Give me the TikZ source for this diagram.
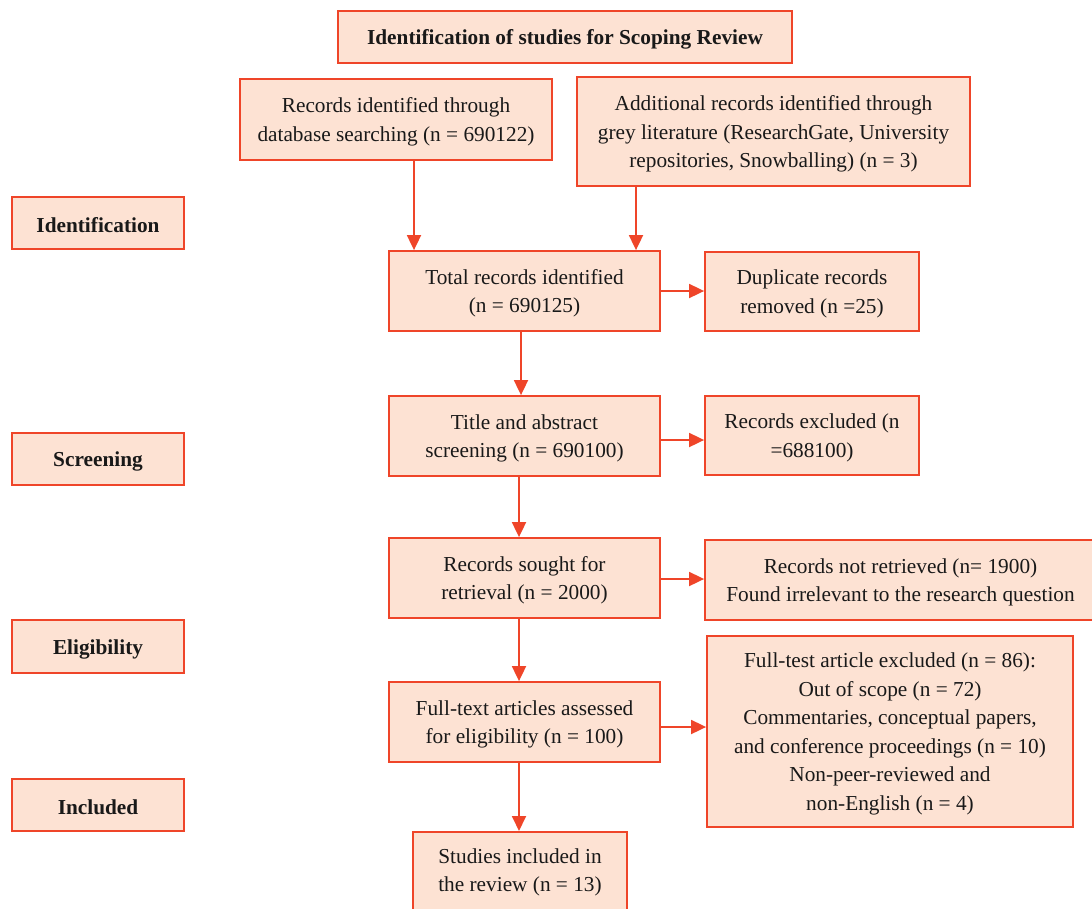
\documentclass[tikz,border=0pt]{standalone}
\usepackage{fontspec}
\setmainfont{Liberation Serif}
\usetikzlibrary{arrows.meta,calc}
\definecolor{bred}{HTML}{EF4529}
\definecolor{bfill}{HTML}{FDE2D3}
\newcommand{\fs}{\fontsize{21.3}{28.5}\selectfont}
\newcommand{\bx}[6]{\node[box, minimum width={#4-#2}, minimum height={#5-#3}] (#1) at ({(#2+#4)/2},{(#3+#5)/2}) {\rule{0pt}{20pt}#6};}
\begin{document}
\begin{tikzpicture}[x=1pt,y=-1pt,
  box/.style={draw=bred, fill=bfill, line width=1.8pt, align=center, font=\fs, inner sep=0pt, text=black!90},
  arr/.style={draw=bred, line width=1.8pt, -{Triangle[width=14pt,length=15pt]}}]
\useasboundingbox (0,0) rectangle (1092,908);
\bx{title}{338}{11}{792}{63}{\textbf{Identification of studies for Scoping Review}}
\bx{A}{240}{79}{552}{160}{Records identified through\\database searching (n = 690122)}
\bx{B}{577}{77}{970}{186}{Additional records identified through\\grey literature (ResearchGate, University\\repositories, Snowballing) (n = 3)}
\bx{idn}{12}{197}{184}{249}{\textbf{Identification}}
\bx{T}{389}{251}{660}{331}{Total records identified\\(n = 690125)}
\bx{D}{705}{252}{919}{331}{Duplicate records\\removed (n =25)}
\bx{scr}{12}{433}{184}{485}{\textbf{Screening}}
\bx{TA}{389}{396}{660}{476}{Title and abstract\\screening (n = 690100)}
\bx{E}{705}{396}{919}{475}{Records excluded (n\\=688100)}
\bx{R}{389}{538}{660}{618}{Records sought for\\retrieval (n = 2000)}
\bx{NR}{705}{540}{1096}{620}{Records not retrieved (n= 1900)\\Found irrelevant to the research question}
\bx{eli}{12}{620}{184}{673}{\textbf{Eligibility}}
\bx{F}{389}{682}{660}{762}{Full-text articles assessed\\for eligibility (n = 100)}
\bx{X}{707}{636}{1073}{827}{Full-test article excluded (n = 86):\\Out of scope (n = 72)\\Commentaries, conceptual papers,\\and conference proceedings (n = 10)\\Non-peer-reviewed and\\non-English (n = 4)}
\bx{inc}{12}{779}{184}{831}{\textbf{Included}}
\node[box, minimum width=214, minimum height=100, anchor=north] (S) at (520,831) {};
\node[font=\fs, align=center, anchor=north, text=black!90] (Stext) at (520,845) {Studies included in\\the review (n = 13)};
\coordinate (ca) at (414,0);
\coordinate (cb) at (636,0);
\coordinate (c1) at (521,0);
\coordinate (c2) at (519,0);
\draw[arr] (A.south -| ca) -- (T.north -| ca);
\draw[arr] (B.south -| cb) -- (T.north -| cb);
\draw[arr] (T.east) -- (T.east -| D.west);
\draw[arr] (T.south -| c1) -- (TA.north -| c1);
\draw[arr] ([yshift=-4pt]TA.east) -- ([yshift=-4pt]TA.east -| E.west);
\draw[arr] (TA.south -| c2) -- (R.north -| c2);
\draw[arr] ([yshift=-1pt]R.east) -- ([yshift=-1pt]R.east -| NR.west);
\draw[arr] (R.south -| c2) -- (F.north -| c2);
\draw[arr] ([yshift=-5pt]F.east) -- ([yshift=-5pt]F.east -| X.west);
\draw[arr] (F.south -| c2) -- (S.north -| c2);
\end{tikzpicture}
\end{document}
